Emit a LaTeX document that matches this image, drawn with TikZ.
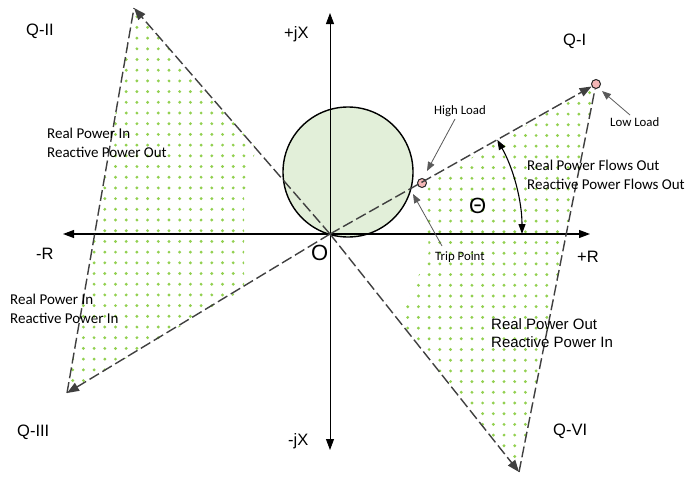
\documentclass[tikz,border=0pt]{standalone}
\usepackage{fontspec}
\setmainfont{Liberation Sans}
\newfontfamily\calfont{Carlito}
\usetikzlibrary{arrows.meta}
\definecolor{circfill}{HTML}{E2EFD9}
\definecolor{dotc}{HTML}{92D050}
\definecolor{dashc}{HTML}{404040}
\definecolor{pinkc}{HTML}{F4B6B6}
\definecolor{annc}{HTML}{595959}
\tikzset{
  axisline/.style={black, line width=1.1pt, {Triangle[length=11pt,width=8pt]}-{Triangle[length=11pt,width=8pt]}},
  dashline/.style={dashc, line width=1.4pt, dash pattern=on 11pt off 4pt},
  dasharrow/.style={dashline, -{Triangle[length=12pt,width=9pt]}},
  annot/.style={annc, line width=0.8pt, -{Triangle[length=9pt,width=7pt]}},
  loadpt/.style={circle, draw=black!85, line width=1pt, fill=pinkc, minimum size=9pt, inner sep=0pt},
  biglabel/.style={inner sep=0pt, anchor=west, font=\fontsize{16.5}{18}\selectfont},
  desc/.style={inner sep=0pt, anchor=west, align=left, font=\calfont\fontsize{15}{18.5}\selectfont},
  descarial/.style={inner sep=0pt, anchor=west, align=left, font=\fontsize{15}{18.5}\selectfont},
  small/.style={inner sep=0pt, anchor=west, font=\calfont\fontsize{12.8}{14}\selectfont},
}
\begin{document}
\begin{tikzpicture}[x=1pt,y=-1pt]
\useasboundingbox (0,0) rectangle (695,482);

% key points
\coordinate (O) at (330,234);
\coordinate (T2) at (134,8);
\coordinate (T3) at (67,393);
\coordinate (T4) at (519,472);
\coordinate (A0) at (522,234);

% dotted regions
\begin{scope}
\clip (134,8) -- (256,148) -- (244,195) -- (244,289) -- (67,393) -- cycle;
\foreach \i in {0,...,19}{\foreach \j in {0,...,37}{
  \fill[dotc] ({62+\i*10.7},{6+\j*10.7}) circle[radius=1.6];}}
\end{scope}
\begin{scope}
\clip (424,186) -- (596,84) -- (519,472) -- (399,320) -- (429,252) -- cycle;
\foreach \i in {0,...,19}{\foreach \j in {0,...,37}{
  \fill[dotc] ({397+\i*10.7},{82+\j*10.7}) circle[radius=1.6];}}
\end{scope}

% circle
\draw[black, line width=1.4pt, fill=circfill] (348,172) circle[radius=65];

% axes
\coordinate (Xl) at (63,234);
\coordinate (Xr) at (590,234);
\coordinate (Yt) at (330,13);
\coordinate (Yb) at (330,450);
\draw[axisline] (Xl) -- (Xr);
\draw[axisline, line width=0.8pt] (Yt) -- (Yb);

% points
\node[loadpt] (trip) at (422,183) {};
\node[loadpt] (low) at (596,84) {};

% dashed lines
\draw[dasharrow] (O) -- (T2);
\draw[dasharrow] (O) -- (T3);
\draw[dashline] (T3) -- (T2);
\draw[dasharrow] (O) -- (low);
\draw[dasharrow] (O) -- (T4);
\draw[dashline] (T4) -- (low);

% angle arc
\draw[black, line width=1.1pt, {Triangle[length=10pt,width=7pt]}-{Triangle[length=10pt,width=7pt]}] (A0) arc[start angle=0, end angle=-29.4, radius=192];

% labels
\node[biglabel] (q2) at (26,31) {Q-II};
\node[biglabel] (q1) at (563,41) {Q-I};
\node[biglabel] (q3) at (17,432) {Q-III};
\node[biglabel] (q4) at (553,431) {Q-VI};
\node[biglabel] (pjx) at (284,34) {+jX};
\node[biglabel] (mjx) at (288,441) {-jX};
\node[biglabel] (mr) at (36,254) {-R};
\node[biglabel] (pr) at (577,257) {+R};
\node[biglabel, font=\fontsize{22}{24}\selectfont] (ol) at (311,253) {O};
\node[biglabel, font=\fontsize{22}{24}\selectfont] (th) at (469,206) {Θ};

\node[desc] (d2) at (47,143) {Real Power In\\Reactive Power Out};
\node[desc] (d1) at (527,175) {Real Power Flows Out\\Reactive Power Flows Out};
\node[desc] (d3) at (10,309) {Real Power In\\Reactive Power In};
\node[descarial] (d4) at (491,333) {Real Power Out\\Reactive Power In};

\node[small] (hl) at (434,111) {High Load};
\node[small] (ll) at (610,122) {Low Load};
\node[small] (tp) at (435,257) {Trip Point};

\coordinate (hls) at (455,119);
\coordinate (hle) at (427,171);
\coordinate (lls) at (630,115);
\coordinate (lle) at (602,91);
\coordinate (tps) at (442,246);
\coordinate (tpe) at (413,194);
\draw[annot] (hls) -- (hle);
\draw[annot] (lls) -- (lle);
\draw[annot] (tps) -- (tpe);
\end{tikzpicture}
\end{document}
